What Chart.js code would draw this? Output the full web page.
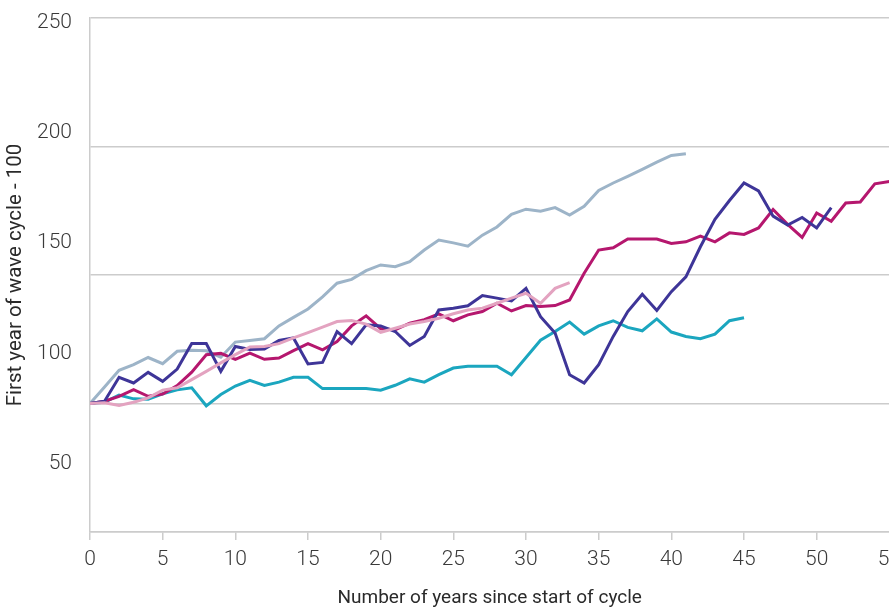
<!DOCTYPE html>
<html><head><meta charset="utf-8">
<script src="https://cdn.jsdelivr.net/npm/chart.js@4/dist/chart.umd.min.js"></script>
<style>
html,body{margin:0;padding:0;overflow:hidden;background:#fff;width:889px;height:607px}
#wrap{position:absolute;left:0;top:0;width:908px;height:611px}
</style>
</head><body><div id="wrap"><canvas id="c"></canvas></div>
<script>
const years = [0,1,2,3,4,5,6,7,8,9,10,11,12,13,14,15,16,17,18,19,20,21,22,23,24,25,26,27,28,29,30,31,32,33,34,35,36,37,38,39,40,41,42,43,44,45,46,47,48,49,50,51,52,53,54,55];
const xTickValues = [0,5,10,15,20,25,30,35,40,45,50,55];
const yTickValues = [50,100,150,200,250];

const greySeries = [100,106.4,112.9,115.1,117.9,115.5,120.3,120.7,120.5,118,123.9,124.5,125.2,130.2,133.5,136.8,141.5,146.8,148.3,151.7,153.9,153.2,155.2,159.7,163.6,162.5,161.2,165.5,168.7,173.6,175.6,174.8,176.2,173.3,176.7,182.9,185.8,188.4,191.1,193.9,196.5,197.2];
const tealSeries = [100,100.5,103.3,101.8,101.7,103.8,105.3,106.1,99.1,103.5,106.8,109,107,108.3,110.2,110.2,105.8,105.8,105.8,105.8,105.2,107.1,109.6,108.3,111.2,113.8,114.5,114.5,114.5,111.2,117.9,124.6,128,131.7,127,130.2,132.2,129.6,128.3,132.9,127.8,126.1,125.2,127,132.2,133.4];
const magentaSeries = [100,100.9,102.8,105.4,102.8,103.7,107,112.2,119,119.5,117.2,119.6,117.2,117.7,120.6,123.3,120.9,124.1,130.2,134.1,129.1,128.7,131.3,132.6,134.9,132.2,134.5,135.8,139,136,138.1,137.7,138.1,140.3,150.7,159.7,160.6,164,164,164,162.3,162.9,165.1,162.9,166.4,165.8,168.3,175.5,169.7,164.6,174.1,170.9,178,178.4,185.5,186.4];
const purpleSeries = [100,100.9,110.2,108,112.1,108.6,113.4,123.3,123.3,112.5,122.2,121,121.2,124.5,125.5,115.4,116,128,123.3,130.6,130.2,128,122.6,126.1,136.4,137.1,138,142,141,139.9,144.8,133.8,127.4,111.2,108,115.1,126.1,135.8,142.5,136.2,143.5,149.3,161,171.7,179,185.8,182.7,172.9,169.4,172.4,168.3,176.2];
const pinkSeries = [100,100.3,99.2,100.5,102.2,105.2,106.1,109.3,112.5,115.8,119,122,122.2,123.3,125.5,127.6,129.7,131.9,132.3,130.9,127.7,129.3,130.9,131.9,133.2,134.9,136.4,137.1,139,141,142.9,139,144.8,147];

const FONT = "Roboto, 'Noto Sans', sans-serif";
const toPts = arr => arr.map((v, i) => ({x: years[i], y: v}));
const mk = (label, arr, color) => ({label, data: toPts(arr), borderColor: color, backgroundColor: color, borderWidth: 3, pointRadius: 0, tension: 0, fill: false, yAxisID: 'y'});

new Chart(document.getElementById('c'), {
  type: 'line',
  data: {
    datasets: [
      mk('Pink', pinkSeries, '#e3a3c0'),
      mk('Purple', purpleSeries, '#3e3598'),
      mk('Magenta', magentaSeries, '#b5176e'),
      mk('Teal', tealSeries, '#1ba6bf'),
      mk('Grey', greySeries, '#9db4c8')
    ]
  },
  options: {
    responsive: true,
    maintainAspectRatio: false,
    animation: false,
    layout: {padding: {left: 0, top: 18, right: 0, bottom: 0}},
    plugins: {legend: {display: false}, tooltip: {enabled: false}},
    scales: {
      x: {
        type: 'linear', min: 0, max: 55,
        afterBuildTicks: s => { s.ticks = xTickValues.map(v => ({value: v})); },
        afterFit: s => { s.height = 79; },
        grid: {display: true, drawOnChartArea: false, drawTicks: true, tickLength: 8, color: '#cccccc', lineWidth: 1.5},
        border: {display: true, color: '#cccccc', width: 1.5},
        ticks: {font: {family: FONT, size: 21, weight: 300}, color: '#3a3a3a', padding: 7, maxRotation: 0},
        title: {display: true, text: 'Number of years since start of cycle', font: {family: FONT, size: 19, weight: 400}, color: '#2a2a2a', padding: {top: 12, bottom: 1}}
      },
      y: {
        type: 'linear', position: 'left', min: 50, max: 250, weight: 0,
        afterBuildTicks: s => { s.ticks = yTickValues.map(v => ({value: v})); },
        afterFit: s => { s.width = 0; s.paddingTop = 0; s.paddingBottom = 0; },
        grid: {color: '#cccccc', lineWidth: 1.5, drawTicks: false},
        border: {display: true, color: '#cccccc', width: 1.5},
        ticks: {display: false}
      },
      yl: {
        type: 'linear', position: 'left', min: 19.2, max: 252.0, weight: 1,
        afterBuildTicks: s => { s.ticks = yTickValues.map(v => ({value: v})); },
        afterFit: s => { s.width = 90; s.paddingTop = 0; s.paddingBottom = 0; },
        grid: {display: false, drawTicks: false},
        border: {display: false},
        ticks: {font: {family: FONT, size: 21, weight: 300}, color: '#3a3a3a', padding: 18},
        title: {display: true, text: 'First year of wave cycle - 100', font: {family: FONT, size: 20.5, weight: 400}, color: '#2a2a2a', padding: {top: 4, bottom: 12}}
      }
    }
  }
});
</script>
</body></html>
